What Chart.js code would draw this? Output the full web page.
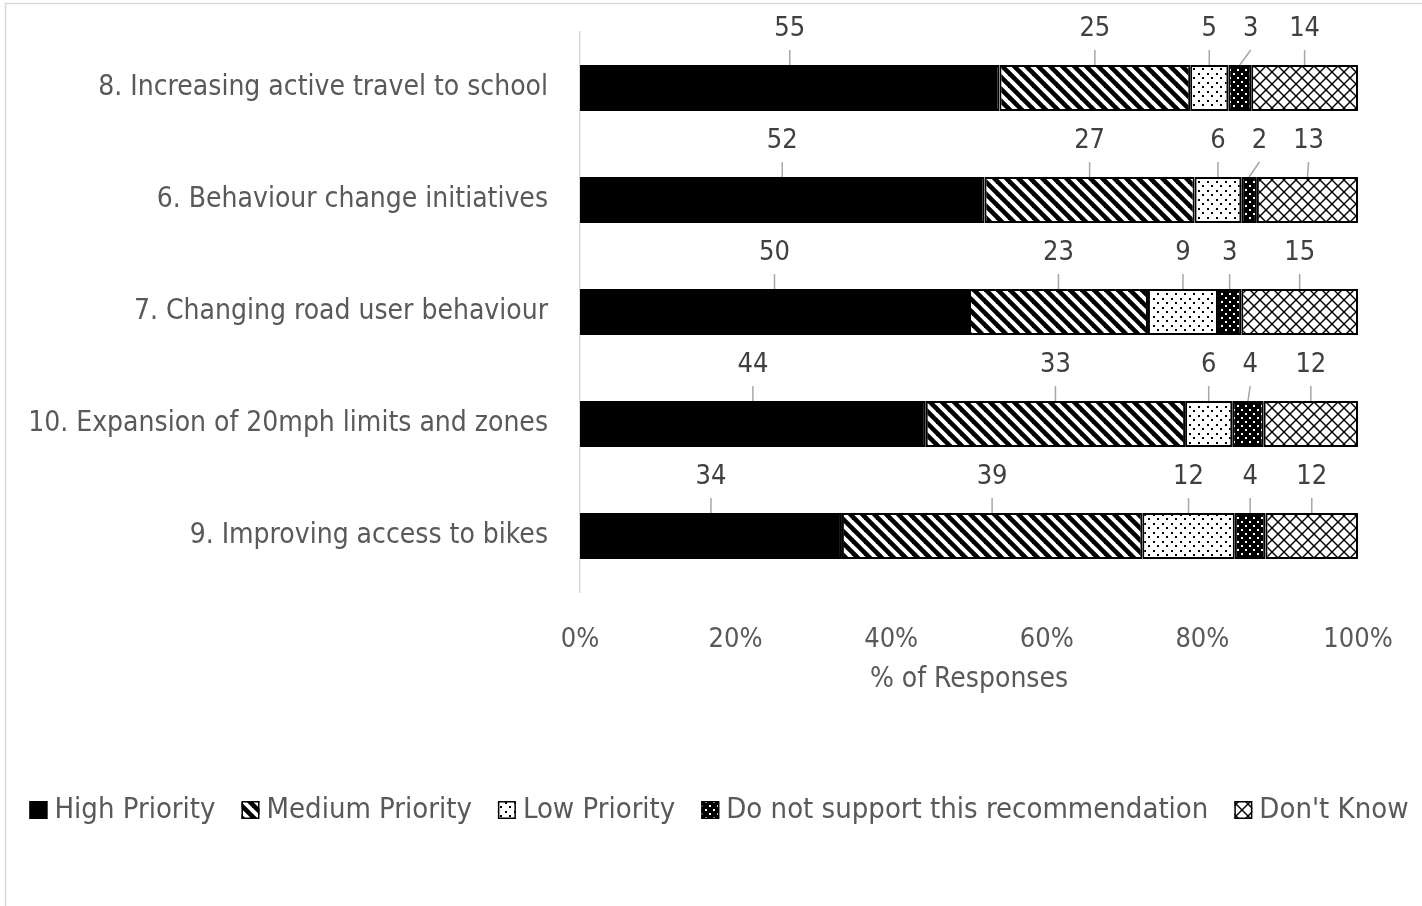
<!DOCTYPE html>
<html>
<head>
<meta charset="utf-8">
<script src="https://cdn.jsdelivr.net/npm/chart.js@4.4.1/dist/chart.umd.min.js"></script>
<style>
  html, body { margin: 0; padding: 0; background: #ffffff; }
  #wrap { width: 1422px; height: 906px; }
</style>
</head>
<body>
<div id="wrap"><canvas id="c" width="1422" height="906"></canvas></div>
<script>
// ---- data (counts of responses) ----
const categories = [
  "8. Increasing active travel to school",
  "6. Behaviour change initiatives",
  "7. Changing road user behaviour",
  "10. Expansion of 20mph limits and zones",
  "9. Improving access to bikes"
];
const seriesNames = ["High Priority", "Medium Priority", "Low Priority", "Do not support this recommendation", "Don't Know"];
const highPriority   = [55, 52, 50, 44, 34];
const mediumPriority = [25, 27, 23, 33, 39];
const lowPriority    = [5, 6, 9, 6, 12];
const doNotSupport   = [3, 2, 3, 4, 4];
const dontKnow       = [14, 13, 15, 12, 12];
const xTickValues    = [0, 20, 40, 60, 80, 100];
const xAxisTitle     = "% of Responses";

const FONT = "'Liberation Sans Narrow', 'Arial Narrow', 'DejaVu Sans Condensed', Roboto, sans-serif";
const TEXT = "#595959";

// ---- patterns ----
function makePattern(w, h, draw) {
  const c = document.createElement('canvas');
  c.width = w; c.height = h;
  const g = c.getContext('2d');
  draw(g, w, h);
  return g.createPattern(c, 'repeat');
}
const patSolid = '#000000';
const patStripes = makePattern(12, 12, (g, w, h) => {
  g.fillStyle = '#fff'; g.fillRect(0, 0, w, h);
  g.strokeStyle = '#000'; g.lineWidth = 4.6; g.lineCap = 'square';
  for (let k = -1; k <= 1; k++) {
    g.beginPath(); g.moveTo(k * w, 0); g.lineTo(k * w + w, h); g.stroke();
  }
});
const patDots = makePattern(9, 9, (g, w, h) => {
  g.fillStyle = '#fff'; g.fillRect(0, 0, w, h);
  g.fillStyle = '#000';
  g.fillRect(1, 1, 2, 2); g.fillRect(5, 5, 2, 2);
});
const patDarkDots = makePattern(8, 8, (g, w, h) => {
  g.fillStyle = '#000'; g.fillRect(0, 0, w, h);
  g.fillStyle = '#fff';
  g.fillRect(1, 1, 2, 2); g.fillRect(5, 5, 2, 2);
});
const patCross = makePattern(12, 12, (g, w, h) => {
  g.fillStyle = '#fff'; g.fillRect(0, 0, w, h);
  g.strokeStyle = '#000'; g.lineWidth = 1.4;
  for (let k = -1; k <= 1; k++) {
    g.beginPath(); g.moveTo(k * w, 0); g.lineTo(k * w + w, h); g.stroke();
    g.beginPath(); g.moveTo(k * w + w, 0); g.lineTo(k * w, h); g.stroke();
  }
});

const rawSeries = [highPriority, mediumPriority, lowPriority, doNotSupport, dontKnow];
const fills = [patSolid, patStripes, patDots, patDarkDots, patCross];
const totals = categories.map((_, i) => rawSeries.reduce((s, arr) => s + arr[i], 0));

const datasets = rawSeries.map((arr, si) => ({
  label: seriesNames[si],
  data: arr.map((v, i) => v / totals[i] * 100),
  counts: arr,
  backgroundColor: fills[si],
  borderColor: '#000000',
  borderWidth: 2,
  borderSkipped: false,
  barPercentage: 0.41,
  categoryPercentage: 1.0
}));

// ---- plugins ----
const frame = {
  id: 'frame',
  beforeDraw(chart) {
    const ctx = chart.ctx;
    ctx.save();
    ctx.fillStyle = '#fff';
    ctx.fillRect(0, 0, chart.width, chart.height);
    ctx.strokeStyle = '#d9d9d9';
    ctx.lineWidth = 1.5;
    ctx.strokeRect(5.5, 3.5, chart.width + 10, chart.height + 10);
    ctx.restore();
  }
};

const leaderLabels = {
  id: 'leaderLabels',
  afterDatasetsDraw(chart) {
    const ctx = chart.ctx;
    ctx.save();
    ctx.font = `27px ${FONT}`;
    ctx.textAlign = 'center';
    ctx.textBaseline = 'middle';
    categories.forEach((_, i) => {
      const items = chart.data.datasets.map((ds, si) => {
        const el = chart.getDatasetMeta(si).data[i];
        const cx = (el.x + el.base) / 2;
        const top = el.y - el.height / 2;
        const txt = String(ds.counts[i]);
        return { cx, top, txt, w: ctx.measureText(txt).width, lx: cx };
      });
      const gap = 26;
      for (let k = 1; k < items.length; k++) {
        const p = items[k - 1], q = items[k];
        const minX = p.lx + p.w / 2 + gap + q.w / 2;
        if (q.lx < minX) q.lx = minX;
      }
      items.forEach(it => {
        const ly = it.top - 36;
        ctx.strokeStyle = '#a6a6a6';
        ctx.lineWidth = 1.5;
        ctx.beginPath();
        ctx.moveTo(it.cx, it.top);
        ctx.lineTo(it.lx, ly + 21);
        ctx.stroke();
        ctx.fillStyle = '#404040';
        ctx.fillText(it.txt, it.lx, ly);
      });
    });
    ctx.restore();
  }
};

const customLegend = {
  id: 'customLegend',
  afterDraw(chart) {
    const ctx = chart.ctx;
    ctx.save();
    ctx.font = `29px ${FONT}`;
    ctx.textBaseline = 'middle';
    const box = 18, boxGap = 7, itemGap = 26, y = 810;
    const items = chart.data.datasets.map(ds => ({ ds, w: ctx.measureText(ds.label).width }));
    const total = items.reduce((s, it) => s + box + boxGap + it.w, 0) + itemGap * (items.length - 1);
    let x = 719 - total / 2;
    items.forEach(it => {
      ctx.fillStyle = it.ds.backgroundColor;
      ctx.fillRect(x, y - box / 2, box, box);
      ctx.strokeStyle = '#000';
      ctx.lineWidth = 1.5;
      ctx.strokeRect(x + 0.75, y - box / 2 + 0.75, box - 1.5, box - 1.5);
      ctx.fillStyle = TEXT;
      ctx.textAlign = 'left';
      ctx.fillText(it.ds.label, x + box + boxGap, y);
      x += box + boxGap + it.w + itemGap;
    });
    ctx.restore();
  }
};

new Chart(document.getElementById('c'), {
  type: 'bar',
  data: { labels: categories, datasets },
  plugins: [frame, leaderLabels, customLegend],
  options: {
    indexAxis: 'y',
    responsive: false,
    animation: false,
    devicePixelRatio: 1,
    layout: { padding: { left: 0, right: 64, top: 32, bottom: 200 } },
    plugins: { legend: { display: false }, tooltip: { enabled: false } },
    scales: {
      x: {
        stacked: true,
        min: 0, max: 100,
        afterBuildTicks(scale) { scale.ticks = xTickValues.map(v => ({ value: v })); },
        ticks: { callback: v => v + '%', font: { family: FONT, size: 27 }, color: TEXT, padding: 24, maxRotation: 0 },
        grid: { display: false },
        border: { display: false },
        title: { display: true, text: xAxisTitle, font: { family: FONT, size: 28 }, color: TEXT, padding: { top: 4, bottom: 9 } },
        afterFit(scale) { scale.height = 114; scale.paddingLeft = 0; scale.paddingRight = 0; }
      },
      y: {
        stacked: true,
        ticks: { font: { family: FONT, size: 28 }, color: TEXT, padding: 24 },
        grid: { display: false },
        border: { display: true, color: '#d9d9d9', width: 1.5 },
        afterFit(scale) { scale.width = 580; scale.paddingTop = 0; scale.paddingBottom = 0; }
      }
    }
  }
});
</script>
</body>
</html>
